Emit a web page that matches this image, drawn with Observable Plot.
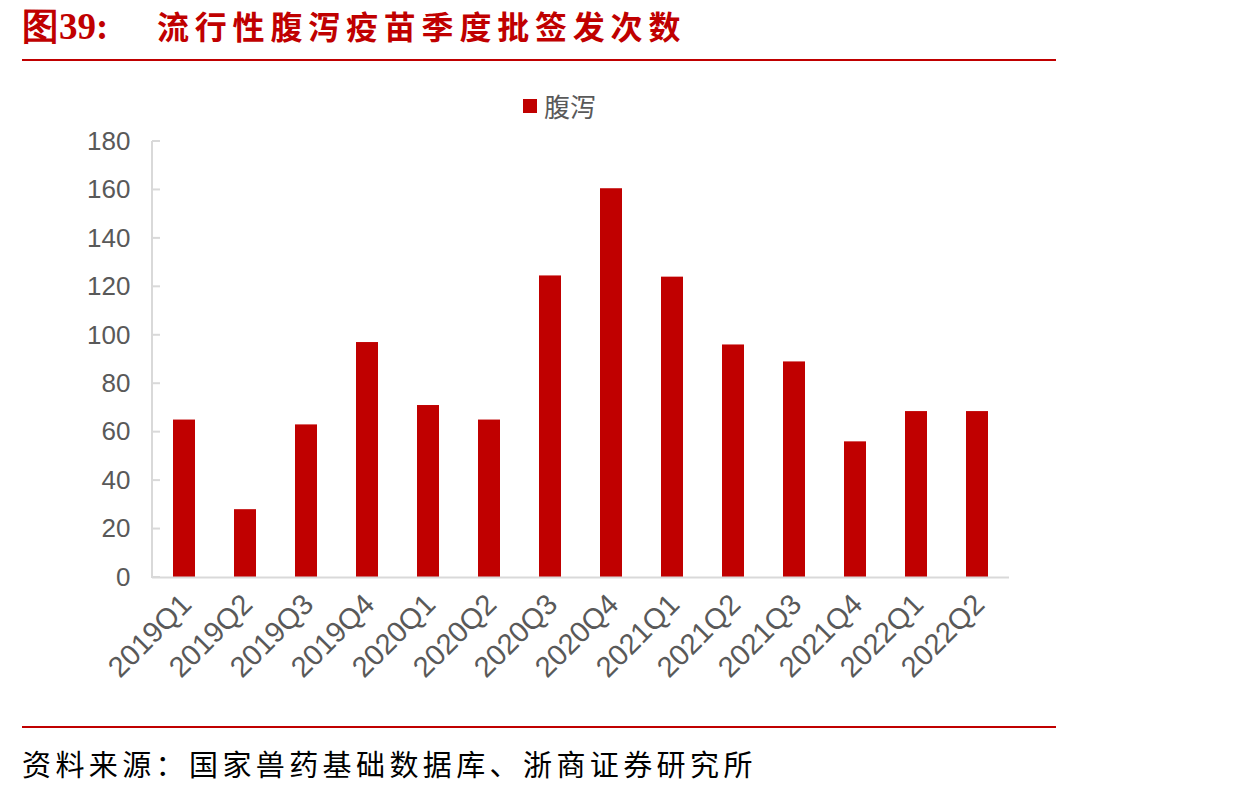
<!DOCTYPE html>
<html><head><meta charset="utf-8">
<script src="https://cdn.jsdelivr.net/npm/d3@7"></script>
<script src="https://cdn.jsdelivr.net/npm/@observablehq/plot@0.6"></script>
<style>
html,body{margin:0;padding:0;background:#fff;}
#wrap{position:relative;width:1237px;height:796px;overflow:hidden;}
.title{position:absolute;left:22px;top:2px;color:#c00000;font-weight:bold;font-size:32px;white-space:nowrap;z-index:2;}
.title .num{font-family:"Liberation Serif",serif;font-size:37px;}
.title .txt{font-family:"Noto Sans CJK SC",sans-serif;letter-spacing:5.8px;position:absolute;left:135px;top:0;}
.rule{position:absolute;left:22px;width:1034px;height:2px;background:#c00000;z-index:2;}
.src{position:absolute;left:22px;top:742px;font-family:"Noto Sans CJK SC",sans-serif;font-size:29px;letter-spacing:4.4px;color:#000;white-space:nowrap;}
.legend{position:absolute;left:523px;top:87px;font-family:"Noto Sans CJK SC",sans-serif;font-size:26px;color:#595959;display:flex;align-items:center;z-index:2;}
.legend .sw{width:14px;height:14px;background:#c00000;margin-right:7px;}
#chart{position:absolute;left:0;top:70px;z-index:1;}
</style></head>
<body><div id="wrap">
<div class="title"><span class="num">图39:</span><span class="txt">流行性腹泻疫苗季度批签发次数</span></div>
<div class="rule" style="top:59px"></div>
<div id="chart"></div>
<div class="legend"><div class="sw"></div><span>腹泻</span></div>
<div class="rule" style="top:726px"></div>
<div class="src">资料来源：国家兽药基础数据库、浙商证券研究所</div>
</div>
<script>
const quarters = ["2019Q1","2019Q2","2019Q3","2019Q4","2020Q1","2020Q2","2020Q3","2020Q4","2021Q1","2021Q2","2021Q3","2021Q4","2022Q1","2022Q2"];
const values = [65, 28, 63, 97, 71, 65, 124.5, 160.5, 124, 96, 89, 56, 68.5, 68.5];
const yTicks = [0,20,40,60,80,100,120,140,160,180];
const seriesName = "腹泻";
const data = quarters.map((q,i)=>({q, v: values[i]}));

// left axis line and inward ticks drawn from the library's y scale
function leftAxis(index, scales, values, dimensions) {
  const g = d3.create("svg:g").attr("stroke", "#d9d9d9").attr("stroke-width", 2);
  const x0 = dimensions.marginLeft;
  g.append("line").attr("x1", x0).attr("x2", x0).attr("y1", scales.y(0) + 1).attr("y2", scales.y(180));
  for (const t of yTicks) {
    g.append("line").attr("x1", x0).attr("x2", x0 + 8).attr("y1", scales.y(t)).attr("y2", scales.y(t));
  }
  return g.node();
}

const chart = Plot.plot({
  width: 1237, height: 640,
  marginTop: 71, marginBottom: 133, marginLeft: 152, marginRight: 228,
  style: {fontFamily: "Liberation Sans, Arial, sans-serif", color: "#595959", background: "transparent"},
  x: {domain: quarters, paddingInner: 0.64, paddingOuter: 0.32, label: null},
  y: {domain: [0,180], ticks: yTicks, label: null},
  marks: [
    Plot.barY(data, {x: "q", y: "v", fill: "#c00000"}),
    Plot.ruleY([0], {stroke: "#d9d9d9", strokeWidth: 2}),
    Plot.axisY(yTicks, {anchor: "left", tickSize: 0, tickPadding: 22, fontSize: 26, fill: "#595959", label: null}),
    leftAxis,
    Plot.axisX({anchor: "bottom", tickSize: 0, tickPadding: 22, tickRotate: -45, fontSize: 29, fill: "#595959", dx: 2, label: null})
  ]
});
document.getElementById("chart").appendChild(chart);
</script>
</body></html>
